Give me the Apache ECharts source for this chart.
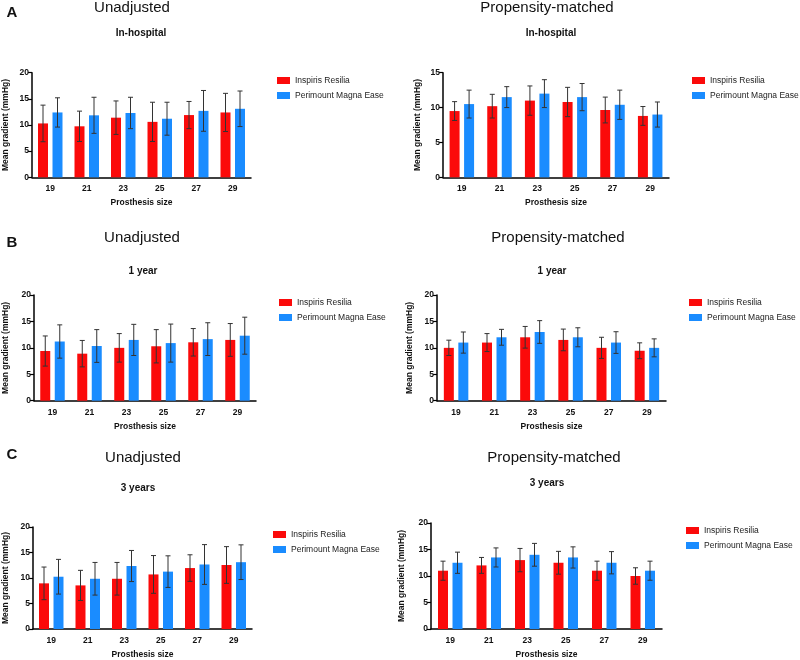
<!DOCTYPE html>
<html>
<head>
<meta charset="utf-8">
<script src="https://cdn.jsdelivr.net/npm/echarts@6/dist/echarts.min.js"></script>
<style>html,body{margin:0;padding:0;background:#fff}#c{width:800px;height:660px}</style>
</head>
<body>
<div id="c"></div>
<script>
const categories = ['19', '21', '23', '25', '27', '29'];
const seriesNames = ['Inspiris Resilia', 'Perimount Magna Ease'];

// A: In-hospital
const inhospUnadjInspiris = [10.3, 9.75, 11.4, 10.6, 11.9, 12.4];
const inhospUnadjInspirisSD = [3.5, 2.9, 3.2, 3.75, 2.6, 3.65];
const inhospUnadjPerimount = [12.4, 11.85, 12.3, 11.2, 12.7, 13.1];
const inhospUnadjPerimountSD = [2.8, 3.45, 3.0, 3.15, 3.9, 3.4];
const inhospPsmInspiris = [9.5, 10.2, 11.0, 10.8, 9.65, 8.8];
const inhospPsmInspirisSD = [1.35, 1.7, 2.1, 2.1, 1.85, 1.35];
const inhospPsmPerimount = [10.5, 11.5, 12.0, 11.5, 10.4, 9.0];
const inhospPsmPerimountSD = [2.0, 1.5, 2.0, 1.95, 2.1, 1.8];
// B: 1 year
const y1UnadjInspiris = [9.4, 8.9, 10.0, 10.3, 11.05, 11.5];
const y1UnadjInspirisSD = [2.85, 2.5, 2.7, 3.15, 2.6, 3.1];
const y1UnadjPerimount = [11.2, 10.35, 11.5, 10.9, 11.65, 12.3];
const y1UnadjPerimountSD = [3.15, 3.1, 2.95, 3.6, 3.1, 3.5];
const y1PsmInspiris = [10.0, 11.0, 12.0, 11.5, 10.0, 9.45];
const y1PsmInspirisSD = [1.45, 1.7, 2.05, 2.05, 2.0, 1.5];
const y1PsmPerimount = [11.0, 12.0, 13.0, 12.0, 11.0, 10.0];
const y1PsmPerimountSD = [2.0, 1.5, 2.15, 1.8, 2.05, 1.7];
// C: 3 years
const y3UnadjInspiris = [8.95, 8.55, 9.85, 10.7, 11.95, 12.55];
const y3UnadjInspirisSD = [3.2, 2.95, 3.2, 3.7, 2.6, 3.6];
const y3UnadjPerimount = [10.25, 9.85, 12.35, 11.25, 12.65, 13.1];
const y3UnadjPerimountSD = [3.4, 3.2, 3.05, 3.1, 3.9, 3.4];
const y3PsmInspiris = [11.0, 12.0, 13.0, 12.5, 11.0, 10.0];
const y3PsmInspirisSD = [1.8, 1.5, 2.2, 2.15, 1.8, 1.55];
const y3PsmPerimount = [12.5, 13.5, 14.0, 13.5, 12.5, 11.0];
const y3PsmPerimountSD = [2.0, 1.8, 2.15, 2.0, 2.1, 1.8];

const yTicksMax = [20, 15, 20, 20, 20, 20];

const panelData = [
  [inhospUnadjInspiris, inhospUnadjInspirisSD, inhospUnadjPerimount, inhospUnadjPerimountSD],
  [inhospPsmInspiris, inhospPsmInspirisSD, inhospPsmPerimount, inhospPsmPerimountSD],
  [y1UnadjInspiris, y1UnadjInspirisSD, y1UnadjPerimount, y1UnadjPerimountSD],
  [y1PsmInspiris, y1PsmInspirisSD, y1PsmPerimount, y1PsmPerimountSD],
  [y3UnadjInspiris, y3UnadjInspirisSD, y3UnadjPerimount, y3UnadjPerimountSD],
  [y3PsmInspiris, y3PsmInspirisSD, y3PsmPerimount, y3PsmPerimountSD]
];

// layout (positions only)
const layout = [
  {left: 29, top: 72.7, width: 222, height: 104.6, yGap: 22, legend: [277, 76]},
  {left: 443, top: 72.7, width: 226, height: 104.6, yGap: 21, legend: [692, 76]},
  {left: 29, top: 295, width: 227, height: 105.7, yGap: 24, legend: [279, 298]},
  {left: 437, top: 295, width: 229, height: 105.7, yGap: 23, legend: [689, 298]},
  {left: 28, top: 527, width: 224, height: 103, yGap: 23, legend: [273, 530]},
  {left: 431, top: 523, width: 231, height: 107, yGap: 25, legend: [686, 526]}
];

const RED = '#fb0a0a';
const BLUE = '#1a8cff';
const colors = [RED, BLUE];
const BAR_W = 10;
const OFFSET = 7.25;
const FONT = '"Liberation Sans", Arial, sans-serif';

const grid = [], xAxis = [], yAxis = [], series = [], legend = [];
layout.forEach((L, p) => {
  grid.push({left: L.left, top: L.top, width: L.width, height: L.height, containLabel: false});
  xAxis.push({
    type: 'category', gridIndex: p, data: categories,
    name: 'Prosthesis size', nameLocation: 'middle', nameGap: 21,
    nameTextStyle: {fontFamily: FONT, fontWeight: 'bold', fontSize: 8.5, color: '#111'},
    axisLine: {lineStyle: {color: '#000', width: 1.5}},
    axisTick: {alignWithLabel: true, length: 4, lineStyle: {color: '#000', width: 1.2}},
    axisLabel: {fontFamily: FONT, fontWeight: 'bold', fontSize: 8.5, color: '#111', margin: 7},
    splitLine: {show: false}
  });
  yAxis.push({
    type: 'value', gridIndex: p, min: 0, max: yTicksMax[p], interval: 5,
    name: 'Mean gradient (mmHg)', nameLocation: 'middle', nameGap: L.yGap, nameRotate: 90,
    nameTextStyle: {fontFamily: FONT, fontWeight: 'bold', fontSize: 8.5, color: '#111'},
    axisLine: {show: true, lineStyle: {color: '#000', width: 1.5}},
    axisTick: {show: true, length: 4, lineStyle: {color: '#000', width: 1.2}},
    axisLabel: {fontFamily: FONT, fontWeight: 'bold', fontSize: 8.5, color: '#111', margin: 3},
    splitLine: {show: false}
  });
  const d = panelData[p];
  [0, 1].forEach(s => {
    const vals = d[s * 2];
    series.push({
      type: 'bar', name: seriesNames[s], xAxisIndex: p, yAxisIndex: p,
      data: vals, barWidth: BAR_W, barGap: '45%',
      itemStyle: {color: colors[s]}, z: 2
    });
  });
  [0, 1].forEach(s => {
    const vals = d[s * 2], errs = d[s * 2 + 1];
    const off = s === 0 ? -OFFSET : OFFSET;
    series.push({
      type: 'custom', name: 'err' + p + s, xAxisIndex: p, yAxisIndex: p, z: 5,
      data: vals.map((v, i) => [i, v, errs[i]]),
      encode: {x: 0, y: 1},
      renderItem: function (params, api) {
        const i = api.value(0), v = api.value(1), e = api.value(2);
        const hi = api.coord([i, v + e]);
        const lo = api.coord([i, v - e]);
        const x = hi[0] + off;
        const st = {stroke: '#333', lineWidth: 1};
        return {type: 'group', children: [
          {type: 'line', shape: {x1: x, y1: hi[1], x2: x, y2: lo[1]}, style: st},
          {type: 'line', shape: {x1: x - 2.5, y1: hi[1], x2: x + 2.5, y2: hi[1]}, style: st},
          {type: 'line', shape: {x1: x - 2.5, y1: lo[1], x2: x + 2.5, y2: lo[1]}, style: st}
        ]};
      }
    });
  });
  legend.push({
    left: L.legend[0], top: L.legend[1], orient: 'vertical', padding: 0,
    data: seriesNames, icon: 'rect', itemWidth: 13, itemHeight: 7, itemGap: 6,
    textStyle: {fontFamily: FONT, fontSize: 8.5, color: '#222'}
  });
});

function txt(t, x, y, size, weight) {
  return {type: 'text', x: x, y: y, style: {
    text: t, fill: '#111', font: weight + ' ' + size + 'px ' + FONT,
    align: 'center', verticalAlign: 'middle', textAlign: 'center', textVerticalAlign: 'middle'
  }};
}

const graphic = [
  txt('A', 12, 13, 15, 'bold'),
  txt('Unadjusted', 132, 8, 15, 'normal'),
  txt('Propensity-matched', 547, 8, 15, 'normal'),
  txt('In-hospital', 141, 33, 10, 'bold'),
  txt('In-hospital', 551, 33, 10, 'bold'),
  txt('B', 12, 243, 15, 'bold'),
  txt('Unadjusted', 142, 238, 15, 'normal'),
  txt('Propensity-matched', 558, 238, 15, 'normal'),
  txt('1 year', 143, 271, 10, 'bold'),
  txt('1 year', 552, 271, 10, 'bold'),
  txt('C', 12, 455, 15, 'bold'),
  txt('Unadjusted', 143, 458, 15, 'normal'),
  txt('Propensity-matched', 554, 458, 15, 'normal'),
  txt('3 years', 138, 488, 10, 'bold'),
  txt('3 years', 547, 483, 10, 'bold')
];

const chart = echarts.init(document.getElementById('c'), null, {renderer: 'canvas'});
chart.setOption({
  animation: false,
  backgroundColor: '#fff',
  grid, xAxis, yAxis, series, legend, graphic
});
</script>
</body>
</html>
